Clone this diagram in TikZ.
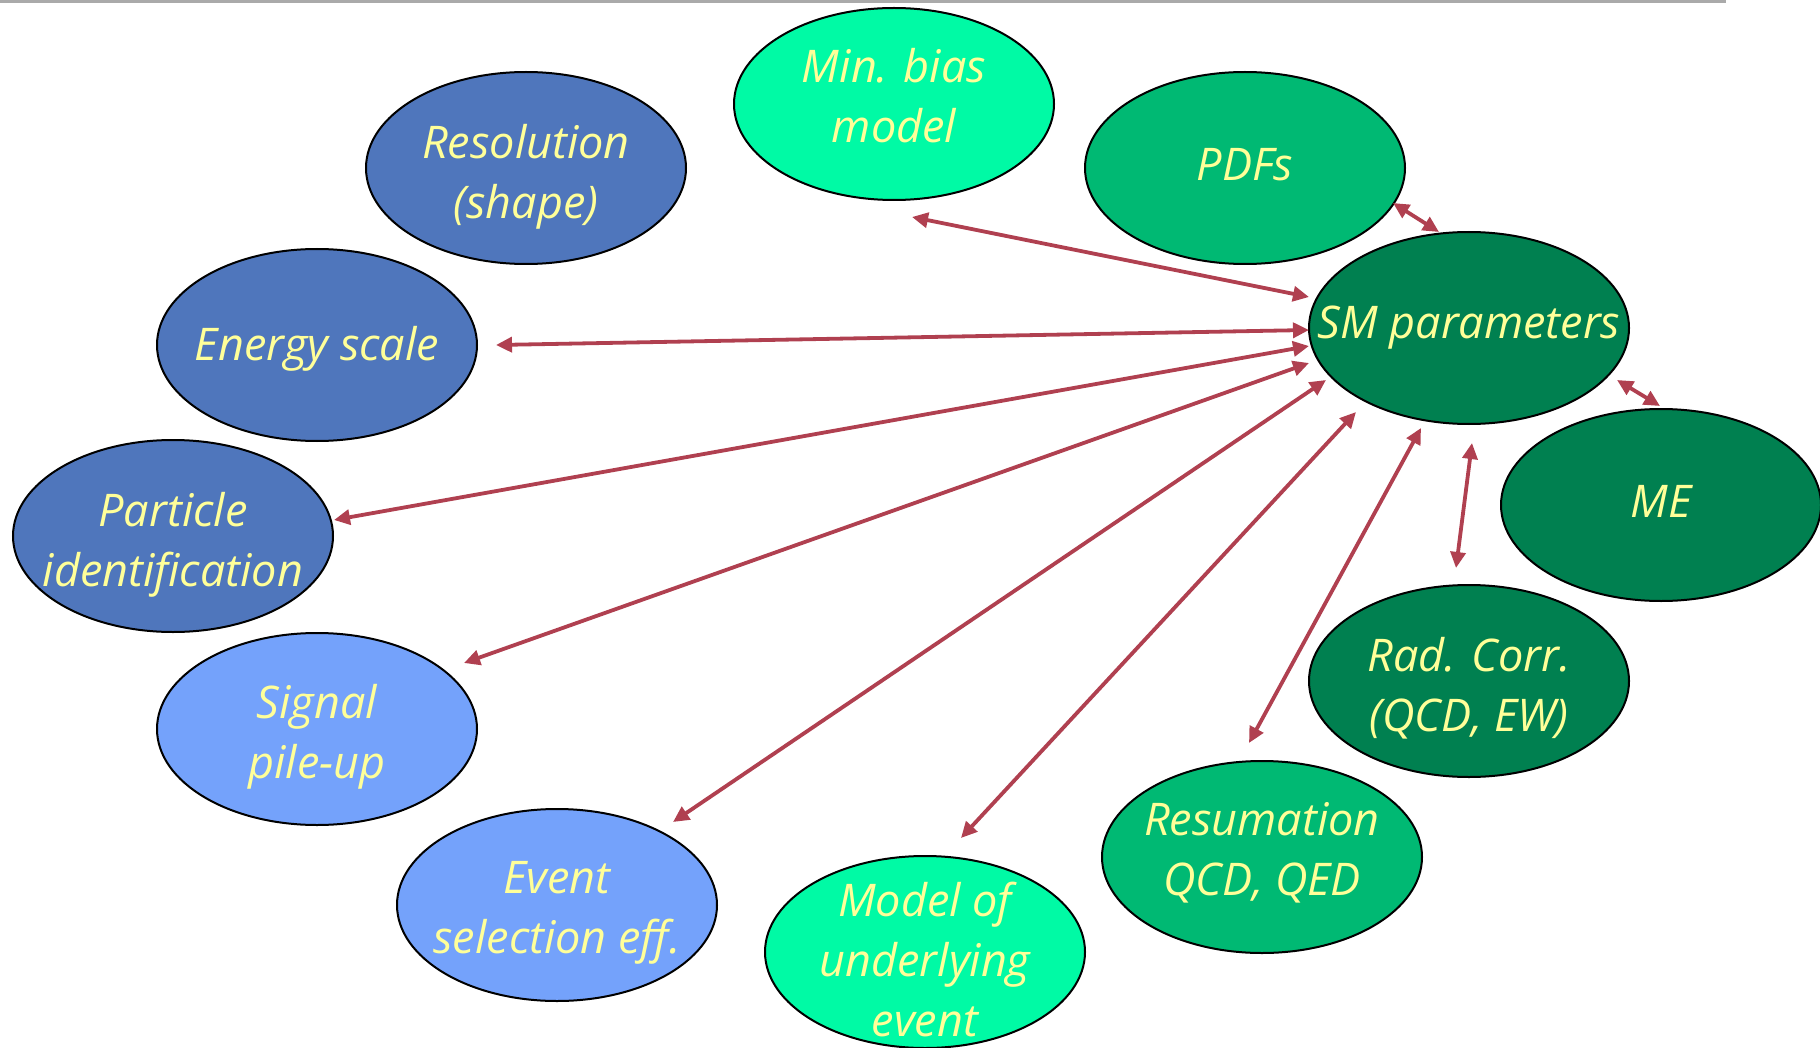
\documentclass[tikz,border=0pt]{standalone}
\usepackage{fontspec}
\setmainfont{Open Sans}
\usetikzlibrary{shapes.geometric,arrows.meta}
\definecolor{aquag}{RGB}{0,250,165}
\definecolor{midg}{RGB}{0,185,115}
\definecolor{darkg}{RGB}{0,128,80}
\definecolor{steelb}{RGB}{79,118,188}
\definecolor{lightb}{RGB}{116,162,251}
\definecolor{txty}{RGB}{255,255,153}
\definecolor{arrred}{RGB}{176,64,80}
\definecolor{topgray}{RGB}{170,170,170}
\begin{document}
\begin{tikzpicture}[x=0.5pt,y=-0.5pt,
  el/.style={ellipse, draw=black, line width=1pt, minimum width=160pt, minimum height=96pt, inner sep=0pt},
  txt/.style={text=txty, align=center, font=\fontsize{22.5}{30}\selectfont\itshape, inner sep=0pt},
  arr/.style={{Triangle[length=8pt,width=7.5pt]}-{Triangle[length=8pt,width=7.5pt]}, draw=arrred, line width=1.9pt}]
\useasboundingbox (0,0) rectangle (1820,1048);
\draw[topgray, line width=1.5pt] (0,2) coordinate (tl) -- (1726,2) coordinate (tr);

\node[el, fill=aquag]  (minbias)  at (894,104) {};
\node[el, fill=steelb] (resol)    at (526,168) {};
\node[el, fill=midg]   (pdfs)     at (1245,168) {};
\node[el, fill=darkg]  (sm)       at (1469,328) {};
\node[el, fill=steelb] (energy)   at (317,345) {};
\node[el, fill=darkg]  (me)       at (1661,505) {};
\node[el, fill=steelb] (pid)      at (173,536) {};
\node[el, fill=darkg]  (radcorr)  at (1469,681) {};
\node[el, fill=lightb] (pileup)   at (317,729) {};
\node[el, fill=midg]   (resum)    at (1262,857) {};
\node[el, fill=lightb] (eventsel) at (557,905) {};
\node[el, fill=aquag]  (model)    at (925,952) {};

\node[txt] (minbiast)  at ([yshift=4pt]minbias.center)    {Min. bias\\model};
\node[txt] (resolt)    at ([yshift=-4.5pt]resol.center)   {Resolution\\(shape)};
\node[txt] (pdfst)     at ([yshift=1.5pt]pdfs.center)     {PDFs};
\node[txt] (smt)       at (sm)                            {SM parameters};
\node[txt] (energyt)   at ([yshift=-2pt]energy.center)    {Energy scale};
\node[txt] (met)       at ([yshift=2pt]me.center)         {ME};
\node[txt] (pidt)      at ([yshift=-4.5pt]pid.center)     {Particle\\identification};
\node[txt] (radcorrt)  at ([yshift=-3.5pt]radcorr.center) {Rad. Corr.\\(QCD, EW)};
\node[txt] (pileupt)   at ([yshift=-4pt]pileup.center)    {Signal\\pile-up};
\node[txt] (resumt)    at ([yshift=2pt]resum.center)      {Resumation\\QCD, QED};
\node[txt] (eventselt) at ([yshift=-4pt]eventsel.center)  {Event\\selection eff.};
\node[txt] (modelt)    at ([yshift=-3.5pt]model.center)   {Model of\\underlying\\event};

\draw[arr] ([shift={(18,113)}]minbias.center) -- ([shift={(-160,-31)}]sm.center);
\draw[arr] ([shift={(148,35)}]pdfs.center) -- ([shift={(-30,-96)}]sm.center);
\draw[arr] ([shift={(179,0)}]energy.center) -- ([shift={(-160,2)}]sm.center);
\draw[arr] ([shift={(161,-16)}]pid.center) -- ([shift={(-160,18)}]sm.center);
\draw[arr] ([shift={(147,-66)}]pileup.center) -- ([shift={(-160,35)}]sm.center);
\draw[arr] ([shift={(116,-83)}]eventsel.center) -- ([shift={(-143,52)}]sm.center);
\draw[arr] ([shift={(36,-114)}]model.center) -- ([shift={(-113,84)}]sm.center);
\draw[arr] ([shift={(-13,-114)}]resum.center) -- ([shift={(-48,100)}]sm.center);
\draw[arr] ([shift={(-13,-113)}]radcorr.center) -- ([shift={(3,115)}]sm.center);
\draw[arr] ([shift={(-1,-99)}]me.center) -- ([shift={(148,52)}]sm.center);
\end{tikzpicture}
\end{document}
